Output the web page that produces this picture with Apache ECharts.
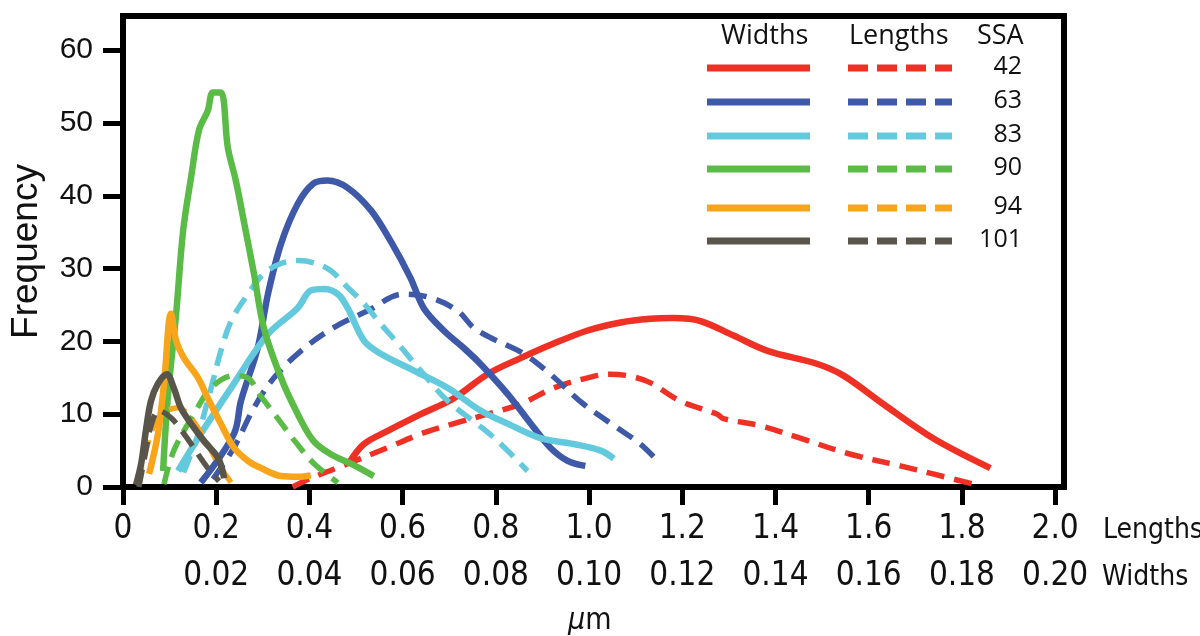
<!DOCTYPE html>
<html><head><meta charset="utf-8">
<script src="https://cdn.jsdelivr.net/npm/echarts@6/dist/echarts.min.js"></script>
<style>html,body{margin:0;padding:0;background:#fff}#c{width:1200px;height:636px}</style>
</head><body><div id="c"></div>
<script>
// ---- data ----
const ssaLabels = ['42', '63', '83', '90', '94', '101'];
const lengthTicks = [0, 0.2, 0.4, 0.6, 0.8, 1.0, 1.2, 1.4, 1.6, 1.8, 2.0];
const widthTicks = [0.02, 0.04, 0.06, 0.08, 0.10, 0.12, 0.14, 0.16, 0.18, 0.20];
const yTicks = [0, 10, 20, 30, 40, 50, 60];

// widths (µm) vs frequency — solid lines
const widths42 = [[0.0484,3.2],[0.0517,5.9],[0.0568,7.7],[0.0639,10.0],[0.0710,12.2],[0.0782,15.5],[0.0853,17.7],[0.0924,19.7],[0.0997,21.5],[0.1068,22.6],[0.1132,23.1],[0.1180,23.2],[0.1239,22.8],[0.1310,20.8],[0.1383,18.7],[0.1490,16.9],[0.1546,15.3],[0.1631,11.4],[0.1738,6.7],[0.1861,2.6]];
const widths63 = [[0.0167,0.6],[0.0238,7.3],[0.0253,11.8],[0.0289,19.1],[0.0311,26.5],[0.0339,33.4],[0.0375,38.9],[0.0409,41.7],[0.0439,42.1],[0.0482,41.1],[0.0532,38.0],[0.0574,33.8],[0.0617,28.7],[0.0645,24.6],[0.0688,21.5],[0.0731,19.1],[0.0767,16.9],[0.0825,12.8],[0.0875,8.7],[0.0917,5.4],[0.0954,3.6],[0.0992,2.9]];
const widths83 = [[0.0118,2.2],[0.0167,7.3],[0.0238,14.2],[0.0311,21.0],[0.0375,24.6],[0.0403,27.0],[0.0431,27.2],[0.0461,26.5],[0.0482,24.6],[0.0517,20.1],[0.0553,18.3],[0.0624,16.0],[0.0697,13.6],[0.0767,10.5],[0.0825,8.7],[0.0896,6.7],[0.0967,5.9],[0.1025,5.0],[0.1053,3.9]];
const widths90 = [[0.0086,2.2],[0.0096,12.2],[0.0114,23.8],[0.0129,35.2],[0.0146,42.5],[0.0163,49.0],[0.0182,51.7],[0.0193,54.2],[0.0210,54.2],[0.0225,46.6],[0.0242,42.1],[0.0259,36.6],[0.0281,29.3],[0.0302,21.9],[0.0339,15.0],[0.0375,10.0],[0.0409,6.3],[0.0446,4.5],[0.0489,3.2],[0.0538,1.5]];
const widths94 = [[0.0056,1.8],[0.0075,7.3],[0.0088,14.2],[0.0103,23.8],[0.0114,20.1],[0.0131,17.7],[0.0161,15.0],[0.0182,12.2],[0.0210,8.7],[0.0238,5.4],[0.0268,3.6],[0.0296,2.6],[0.0339,1.5],[0.0375,1.4],[0.0403,1.6]];
const widths101 = [[0.0028,0.3],[0.0039,3.2],[0.0049,7.7],[0.0060,11.8],[0.0075,14.2],[0.0094,15.5],[0.0109,13.6],[0.0124,10.9],[0.0146,8.7],[0.0174,6.3],[0.0204,4.0],[0.0217,1.2]];

// lengths (µm) vs frequency — dashed lines
const lengths42 = [[0.364,0],[0.403,1.2],[0.482,3.2],[0.568,5.4],[0.639,7.3],[0.710,8.7],[0.782,10.0],[0.853,11.4],[0.924,13.6],[0.997,15.0],[1.045,15.5],[1.090,15.2],[1.132,14.3],[1.196,11.8],[1.275,10.0],[1.288,9.4],[1.368,8.4],[1.453,6.7],[1.561,4.5],[1.668,2.9],[1.738,1.8],[1.824,0.4]];
const lengths63 = [[0.193,1.1],[0.238,5.4],[0.281,10.9],[0.324,15.0],[0.382,18.7],[0.452,21.9],[0.525,24.2],[0.602,26.5],[0.660,26.0],[0.718,24.2],[0.752,21.9],[0.789,20.5],[0.860,18.3],[0.917,15.5],[0.988,11.4],[1.061,8.1],[1.110,5.9],[1.153,3.2]];
const lengths83 = [[0.130,2.0],[0.160,7.0],[0.189,13.6],[0.210,18.7],[0.232,22.8],[0.268,26.5],[0.302,29.3],[0.339,30.7],[0.375,31.1],[0.409,30.8],[0.446,29.7],[0.482,27.4],[0.517,25.2],[0.553,22.4],[0.590,19.7],[0.645,15.5],[0.697,11.8],[0.767,8.3],[0.804,6.3],[0.868,2.2]];
const lengths90 = [[0.088,0.4],[0.109,5.0],[0.152,10.0],[0.189,13.6],[0.238,15.3],[0.268,15.0],[0.292,12.8],[0.330,9.6],[0.370,6.2],[0.410,3.2],[0.461,0.6]];
const lengths94 = [[0.032,0.3],[0.049,5.0],[0.071,9.1],[0.096,10.5],[0.118,10.9],[0.139,10.0],[0.161,8.1],[0.182,5.9],[0.204,3.2],[0.232,0.6]];
const lengths101 = [[0.034,0],[0.047,4.3],[0.060,8.4],[0.077,10.5],[0.103,9.5],[0.131,7.3],[0.161,4.5],[0.182,2.6],[0.206,0.8]];

// ---- build ----
const colors = ['#EE3124', '#3E59A8', '#63C9DD', '#5BBB47', '#F8A51B', '#59554A'];
const widthSets = [widths42, widths63, widths83, widths90, widths94, widths101];
const lengthSets = [lengths42, lengths63, lengths83, lengths90, lengths94, lengths101];
const DASH = [18, 10];

const series = [];
ssaLabels.forEach((s, i) => {
  series.push({
    name: 'Widths ' + s, type: 'line', xAxisIndex: 1, yAxisIndex: 0,
    data: widthSets[i], showSymbol: false, symbol: 'none', smooth: 0.35,
    lineStyle: { color: colors[i], width: 6.5, cap: 'butt', join: 'round' },
    z: 2, silent: true
  });
  series.push({
    name: 'Lengths ' + s, type: 'line', xAxisIndex: 0, yAxisIndex: 0,
    data: lengthSets[i], showSymbol: false, symbol: 'none', smooth: 0.35,
    lineStyle: { color: colors[i], width: 5.5, type: DASH, cap: 'butt', join: 'round' },
    z: 2, silent: true
  });
});

const narrow = '"Liberation Sans Narrow", "DejaVu Sans Condensed", sans-serif';
const legendFont = '"Open Sans", "Lato", sans-serif';

// legend drawn as graphic (line samples + labels) and axis-row captions
const legendY = [68, 102, 136, 169, 208, 241];
const graphic = [];
graphic.push({ type: 'text', left: 721, top: 23, style: { text: 'Widths', font: '27px ' + legendFont, fill: '#111' } });
graphic.push({ type: 'text', left: 849, top: 23, style: { text: 'Lengths', font: '27px ' + legendFont, fill: '#111' } });
graphic.push({ type: 'text', left: 977, top: 23, style: { text: 'SSA', font: '27px ' + legendFont, fill: '#111' } });
ssaLabels.forEach((s, i) => {
  const y = legendY[i];
  graphic.push({ type: 'line', shape: { x1: 707, y1: y, x2: 810, y2: y }, style: { stroke: colors[i], lineWidth: 7 } });
  graphic.push({ type: 'line', shape: { x1: 848, y1: y, x2: 952, y2: y }, style: { stroke: colors[i], lineWidth: 7, lineDash: [20, 9] } });
  graphic.push({ type: 'text', x: 1022, y: y - 1, style: { text: s, font: '25px ' + legendFont, fill: '#111', align: 'right', verticalAlign: 'middle' } });
});
graphic.push({ type: 'text', x: 1103, y: 531, style: { text: 'Lengths', font: '28px ' + narrow, fill: '#111', align: 'left', verticalAlign: 'middle' } });
graphic.push({ type: 'text', x: 1102, y: 578, style: { text: 'Widths', font: '28px ' + narrow, fill: '#111', align: 'left', verticalAlign: 'middle' } });

const chart = echarts.init(document.getElementById('c'), null, { renderer: 'canvas' });
chart.setOption({
  animation: false,
  backgroundColor: '#fff',
  title: {
    text: '{i|μ}m', left: 563, top: 601,
    textStyle: { fontSize: 30, fontWeight: 'normal', color: '#111', fontFamily: narrow,
      rich: { i: { fontStyle: 'italic', fontSize: 30, fontFamily: narrow, color: '#111' } } }
  },
  grid: { left: 123, top: 16, width: 941, height: 471, containLabel: false, outerBoundsMode: 'none',
    show: true, borderColor: '#000', borderWidth: 6, backgroundColor: 'transparent' },
  xAxis: [
    {
      type: 'value', min: 0, max: 2.019, position: 'bottom',
      axisLine: { show: true, onZero: false, lineStyle: { color: '#000', width: 6 } },
      axisTick: { show: true, length: 18, lineStyle: { color: '#000', width: 5 }, customValues: lengthTicks },
      axisLabel: { show: true, customValues: lengthTicks, margin: 26, fontSize: 33, color: '#111', fontFamily: narrow,
        formatter: v => v === 0 ? '0' : v.toFixed(1) },
      splitLine: { show: false }
    },
    {
      type: 'value', min: 0, max: 0.2019, position: 'bottom',
      axisLine: { show: false, onZero: false },
      axisTick: { show: false },
      axisLabel: { show: true, customValues: widthTicks, margin: 73, fontSize: 33, color: '#111', fontFamily: narrow,
        formatter: v => v.toFixed(2) },
      splitLine: { show: false }
    }
  ],
  yAxis: [{
    type: 'value', min: 0, max: 64.7,
    axisLine: { show: true, onZero: false, lineStyle: { color: '#000', width: 6 } },
    axisTick: { show: true, length: 20, lineStyle: { color: '#000', width: 5 }, customValues: yTicks },
    axisLabel: { show: true, customValues: yTicks, margin: 30, fontSize: 30, color: '#111', fontFamily: '"Liberation Sans", Arial, sans-serif' },
    splitLine: { show: false },
    name: 'Frequency', nameLocation: 'middle', nameGap: 78, nameRotate: 90,
    nameTextStyle: { fontSize: 37, color: '#111', fontFamily: '"Liberation Sans", Arial, sans-serif' }
  }],
  graphic: graphic,
  series: series
});
</script>
</body></html>
